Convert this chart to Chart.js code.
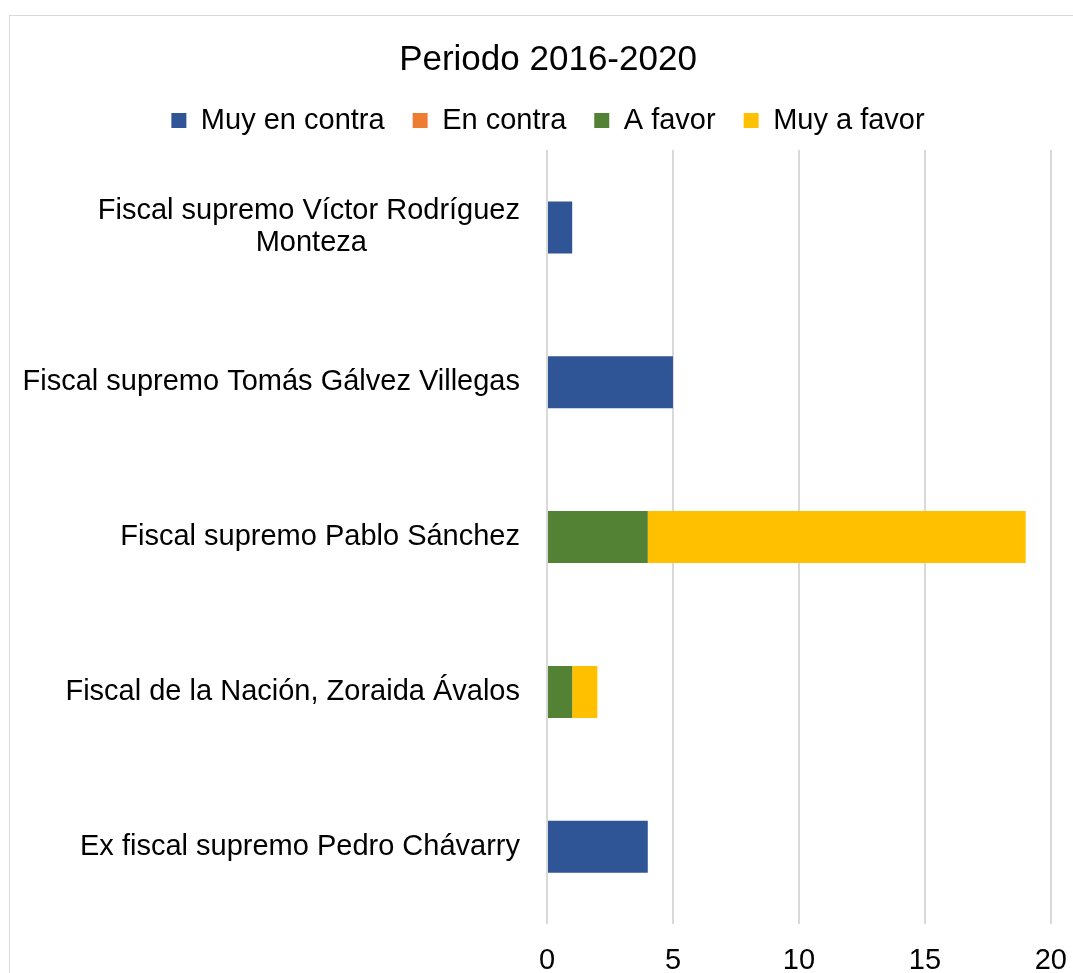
<!DOCTYPE html>
<html>
<head>
<meta charset="utf-8">
<script src="https://cdn.jsdelivr.net/npm/chart.js@4"></script>
<style>
  html, body { margin: 0; padding: 0; background: #fff; overflow: hidden; }
  #frame { position: absolute; left: 9px; top: 15px; width: 1076px; height: 1000px; border: 1px solid #d9d9d9; }
  #chart { display: block; }
</style>
</head>
<body>
<div id="frame"><canvas id="chart" width="1076" height="1000"></canvas></div>
<script>
const categories = [
  ["Fiscal supremo Víctor Rodríguez", "Monteza"],
  "Fiscal supremo Tomás Gálvez Villegas",
  "Fiscal supremo Pablo Sánchez",
  "Fiscal de la Nación, Zoraida Ávalos",
  "Ex fiscal supremo Pedro Chávarry",
];
const seriesNames = ["Muy en contra", "En contra", "A favor", "Muy a favor"];
const muyEnContra = [1, 5, 0, 0, 4];
const enContra = [0, 0, 0, 0, 0];
const aFavor = [0, 0, 4, 1, 0];
const muyAFavor = [0, 0, 15, 1, 0];
const xTicks = [0, 5, 10, 15, 20];

const FONT = '"Liberation Sans", Arial, sans-serif';
Chart.defaults.font.family = FONT;
Chart.defaults.color = "#000";

// pad shorter lines of a wrapped label with spaces so they look centred
const measure = document.createElement("canvas").getContext("2d");
measure.font = "29px " + FONT;
function centerLines(label) {
  if (!Array.isArray(label)) return label;
  const widths = label.map((l) => measure.measureText(l).width);
  const maxW = Math.max(...widths);
  const sp = measure.measureText(" ").width;
  return label.map((l, i) => l + " ".repeat(Math.round((maxW - widths[i]) / 2 / sp)));
}

const colors = ["#2F5597", "#ED7D31", "#548235", "#FFC000"];
const values = [muyEnContra, enContra, aFavor, muyAFavor];

const datasets = seriesNames.map((name, i) => ({
  label: name,
  data: values[i],
  backgroundColor: colors[i],
  borderWidth: 0,
  categoryPercentage: 1,
  barPercentage: 0.336,
}));

new Chart(document.getElementById("chart"), {
  type: "bar",
  data: { labels: categories, datasets: datasets },
  options: {
    indexAxis: "y",
    responsive: false,
    animation: false,
    devicePixelRatio: 1,
    layout: { padding: { left: 7, right: 7, top: 0, bottom: 19 } },
    scales: {
      x: {
        stacked: true,
        min: 0,
        max: 20,
        afterBuildTicks: (scale) => {
          scale.ticks = xTicks.map((v) => ({ value: v }));
        },
        grid: { color: "#d9d9d9", lineWidth: 2, drawTicks: false },
        border: { display: false },
        ticks: { padding: 19, font: { size: 29 }, color: "#000" },
      },
      x2: {
        type: "linear",
        position: "top",
        display: true,
        grid: { display: false, drawTicks: false },
        border: { display: false },
        ticks: { display: false },
        afterFit: (scale) => { scale.height = 5; },
      },
      y: {
        stacked: true,
        grid: { display: false, drawTicks: false },
        border: { display: false },
        afterFit: (scale) => { scale.width = 530; },
        ticks: {
          padding: 27,
          font: { size: 29, lineHeight: 1.1 },
          color: "#000",
          callback: function (value) {
            return centerLines(this.getLabelForValue(value));
          },
        },
      },
      y2: {
        type: "category",
        position: "right",
        display: true,
        grid: { display: false, drawTicks: false },
        border: { display: false },
        ticks: { display: false },
        afterFit: (scale) => { scale.width = 26; },
      },
    },
    plugins: {
      title: {
        display: true,
        text: "Periodo 2016-2020",
        color: "#000",
        font: { size: 35, weight: "normal", lineHeight: 1 },
        padding: { top: 27, bottom: 0 },
      },
      legend: {
        position: "top",
        labels: {
          boxWidth: 15,
          boxHeight: 15,
          padding: 28,
          color: "#000",
          font: { size: 29 },
        },
      },
      tooltip: { enabled: false },
    },
  },
});
</script>
</body>
</html>
